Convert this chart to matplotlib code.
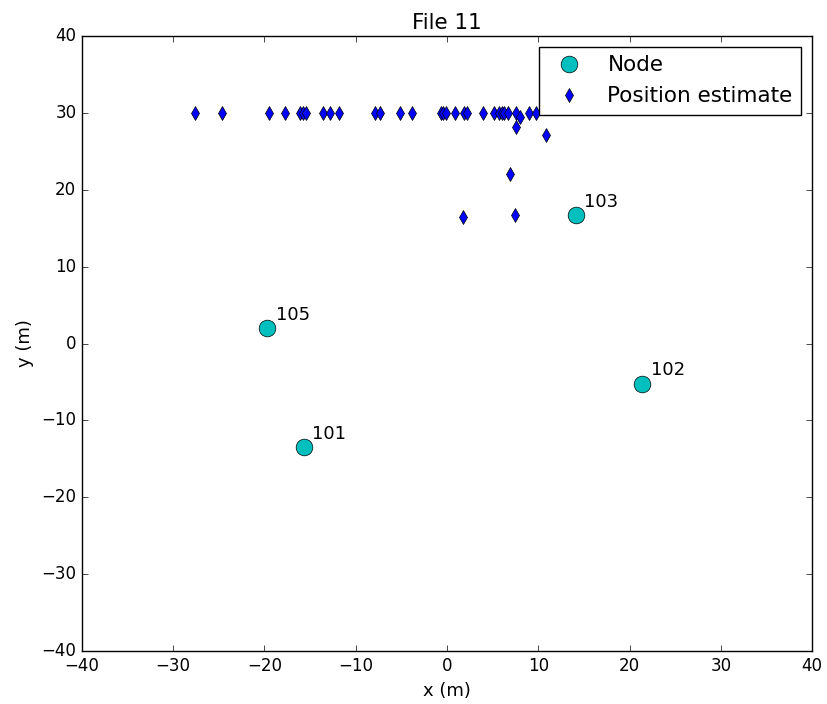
import matplotlib
matplotlib.use("Agg")
import matplotlib.pyplot as plt

plt.style.use("classic")

node_ids = ["101", "102", "103", "105"]
node_x = [-15.7, 21.4, 14.1, -19.7]
node_y = [-13.5, -5.2, 16.7, 2.0]

est_x = [-27.6, -24.6, -19.5, -17.8, -16.1, -15.8, -15.5, -13.6, -12.8, -11.8,
         -7.9, -7.3, -5.1, -3.8, -0.66, -0.4, -0.1, 0.9, 1.9, 2.2, 3.9, 5.2,
         5.7, 6.0, 6.25, 6.7, 7.6, 8.0, 9.0, 9.7, 7.6, 10.8, 6.9, 1.7, 7.5]
est_y = [30, 30, 30, 30, 30, 30, 30, 30, 30, 30,
         30, 30, 30, 30, 30, 30, 30, 30, 30, 30, 30, 30,
         30, 30, 30, 30, 30, 29.5, 30, 30, 28.2, 27.1, 22.1, 16.4, 16.7]

fig = plt.figure(figsize=(8.27, 7.04), dpi=100)
ax = fig.add_axes([0.099, 0.075, 0.883, 0.874])
ax.plot(node_x, node_y, "co", markersize=12, label="Node")
ax.plot(est_x, est_y, "bd", markersize=7, label="Position estimate")
for nid, x, y in zip(node_ids, node_x, node_y):
    ax.annotate(nid, (x, y), xytext=(6, 6), textcoords="offset points", fontsize=13)
ax.set_xlim(-40, 40)
ax.set_ylim(-40, 40)
ax.set_xlabel("x (m)", fontsize=13)
ax.set_ylabel("y (m)", fontsize=13)
ax.set_title("File 11", fontsize=15.5)
ax.legend(loc="upper right", numpoints=1, fontsize=15.5)
fig.savefig("out.png", dpi=100)
